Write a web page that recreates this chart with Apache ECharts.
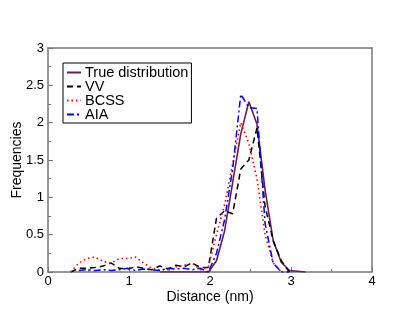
<!DOCTYPE html>
<html>
<head>
<meta charset="utf-8">
<script src="https://cdn.jsdelivr.net/npm/echarts@6/dist/echarts.min.js"></script>
<style>
  html, body { margin: 0; padding: 0; background: #fff; }
  #chart { width: 415px; height: 321px; }
</style>
</head>
<body>
<div id="chart"></div>
<script>
// 数据
const distance = [0.28, 0.38, 0.48, 0.58, 0.68, 0.78, 0.88, 0.98, 1.08, 1.18,
  1.28, 1.38, 1.48, 1.58, 1.68, 1.78, 1.88, 1.98, 2.08, 2.18,
  2.28, 2.38, 2.48, 2.58, 2.68, 2.78, 2.88, 2.98, 3.08, 3.18]

const trueDist = [null, null, null, null, null, null, null, null, null, null,
  null, 0, 0, 0, 0, 0, 0, 0, 0.15, 0.55,
  1.2, 1.85, 2.28, 1.98, 1.1, 0.42, 0.13, 0.02, 0.01, 0]

const vv = [0, 0.05, 0.05, 0.06, 0.08, 0.12, 0.05, 0.04, 0.07, 0.05,
  0.03, 0.08, 0.04, 0.09, 0.07, 0.12, 0.06, 0.06, 0.72, 0.82,
  0.78, 1.38, 1.5, 1.93, 0.88, 0.42, 0.15, 0, null, null]

const bcss = [0, 0.12, 0.18, 0.2, 0.14, 0.12, 0.18, 0.18, 0.2, 0.12,
  0.05, 0.03, 0.03, 0.07, 0.09, 0.12, 0.03, 0.07, 0.5, 0.9,
  1.45, 2.0, 1.72, 1.25, 0.5, 0.12, 0, null, null, null]

const aia = [null, 0.02, 0.03, 0.02, 0.03, 0.02, 0.03, 0.05, 0.02, 0.04,
  0.03, 0.02, 0.05, 0.04, 0.05, 0.03, 0.05, 0, 0.25, 0.7,
  1.38, 2.38, 2.2, 2.19, 0.65, 0.12, 0, 0, null, null]

const pairs = (ys) => distance.map((x, i) => [x, ys[i]])

const font = 'Liberation Sans, Arial, sans-serif'

const makeLine = (name, data, color, type, width) => ({
  name,
  type: 'line',
  data: pairs(data),
  showSymbol: false,
  symbol: 'none',
  connectNulls: false,
  lineStyle: { color, width, type },
  itemStyle: { color }
})

const chart = echarts.init(document.getElementById('chart'))

chart.setOption({
  animation: false,
  grid: { left: 48, right: 43, top: 48, bottom: 49, outerBoundsMode: 'none', containLabel: false },
  legend: {
    orient: 'vertical',
    left: 63,
    top: 63,
    padding: [2, 3, 1, 3],
    itemGap: -1,
    itemWidth: 14,
    itemHeight: 12,
    borderColor: '#000',
    borderWidth: 1,
    backgroundColor: '#fff',
    itemStyle: { opacity: 0 },
    textStyle: { fontFamily: font, fontSize: 14.5, color: '#000', padding: [0, 0, 0, -1] },
    data: ['True distribution', 'VV', 'BCSS', 'AIA']
  },
  xAxis: [
    {
      type: 'value',
      min: 0,
      max: 4,
      interval: 1,
      name: 'Distance (nm)',
      nameLocation: 'middle',
      nameGap: 18,
      nameMoveOverlap: false,
      nameTextStyle: { fontFamily: font, fontSize: 14, color: '#000' },
      axisLine: { onZero: false, lineStyle: { color: '#777', width: 1.5 } },
      axisTick: { inside: true, length: 5, lineStyle: { color: '#777' } },
      minorTick: { show: true, splitNumber: 2, length: 3, lineStyle: { color: '#777' } },
      axisLabel: { fontFamily: font, fontSize: 13, color: '#000', margin: 3 },
      splitLine: { show: false }
    },
    {
      type: 'value',
      position: 'top',
      min: 0,
      max: 4,
      axisLine: { onZero: false, lineStyle: { color: '#777', width: 1.5 } },
      axisTick: { show: false },
      axisLabel: { show: false },
      splitLine: { show: false }
    }
  ],
  yAxis: [
    {
      type: 'value',
      min: 0,
      max: 3,
      interval: 0.5,
      name: 'Frequencies',
      nameLocation: 'middle',
      nameGap: 24,
      nameMoveOverlap: false,
      nameTextStyle: { fontFamily: font, fontSize: 14, color: '#000' },
      axisLine: { show: true, onZero: false, lineStyle: { color: '#777', width: 1.5 } },
      axisTick: { show: true, inside: true, length: 5, lineStyle: { color: '#777' } },
      minorTick: { show: true, splitNumber: 2, length: 3, lineStyle: { color: '#777' } },
      axisLabel: { fontFamily: font, fontSize: 13, color: '#000', margin: 4 },
      splitLine: { show: false }
    },
    {
      type: 'value',
      position: 'right',
      min: 0,
      max: 3,
      axisLine: { show: true, onZero: false, lineStyle: { color: '#777', width: 1.5 } },
      axisTick: { show: false },
      axisLabel: { show: false },
      splitLine: { show: false }
    }
  ],
  series: [
    makeLine('True distribution', trueDist, '#6b1d4c', 'solid', 1.6),
    makeLine('VV', vv, '#000', [6, 4], 1.5),
    makeLine('BCSS', bcss, '#ff0000', [1.5, 3], 1.6),
    makeLine('AIA', aia, '#0000ff', [7, 3, 2, 3], 1.5)
  ]
})
</script>
</body>
</html>
